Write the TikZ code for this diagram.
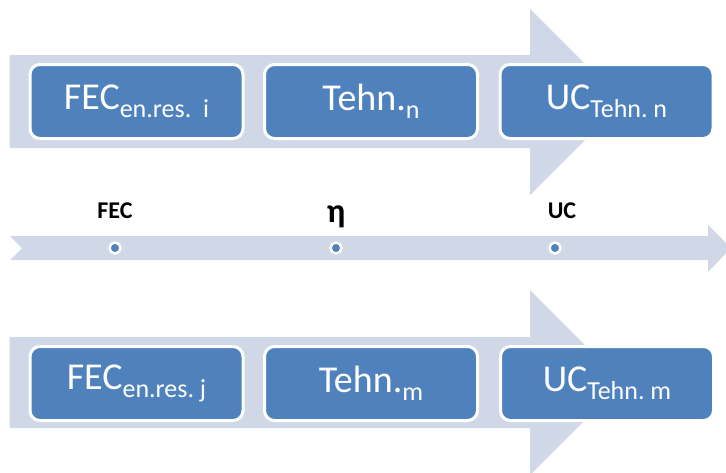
\documentclass[tikz,border=0pt]{standalone}
\usepackage{fontspec}
\setmainfont{Carlito}
\definecolor{band}{HTML}{D0D8E8}
\definecolor{boxblue}{HTML}{4F81BD}
\newcommand\subtxt[1]{\raisebox{-8pt}{\fontsize{26}{26}\selectfont #1}}
\begin{document}
\begin{tikzpicture}[x=1pt,y=-1pt,
  stage/.style={draw=white, line width=3pt, fill=boxblue, rounded corners=10pt,
    minimum width=213pt, minimum height=74pt, text=white, inner sep=0pt,
    font=\fontsize{38}{38}\selectfont},
  lbl/.style={font=\bfseries\fontsize{24}{24}\selectfont, text=black, inner sep=0pt},
  etalbl/.style={font=\bfseries\fontsize{34}{34}\selectfont, text=black, inner sep=0pt},
  dotmark/.style={circle, fill=boxblue, draw=white, line width=2.5pt, minimum size=11pt, inner sep=0pt}]
\useasboundingbox (0,0) rectangle (726,472);
% bands
\fill[band] (9.5,55) -- (530,55) -- (530,9) -- (623,102) -- (530,195) -- (530,148) -- (9.5,148) -- cycle;
\fill[band] (10,236) -- (708,236) -- (708,225) -- (731,248) -- (708,272) -- (708,260) -- (10,260) -- (22,248) -- cycle;
\fill[band] (9.5,337) -- (530,337) -- (530,290) -- (622.5,382.5) -- (530,475) -- (530,428) -- (9.5,428) -- cycle;
% top row
\node[stage] (t1) at (136.5,101.5) {FEC\subtxt{en.res.\ \ i}};
\node[stage] (t2) at (371,101.5) {Tehn.\subtxt{n}};
\node[stage] (t3) at (606.5,101.5) {UC\subtxt{Tehn.\ n}};
% middle
\node[dotmark] (d1) at (115,248) {};
\node[dotmark] (d2) at (336,248) {};
\node[dotmark] (d3) at (555,248) {};
\node[lbl] (l1) at (115,211) {FEC};
\node[etalbl] (l2) at (336,217) {η};
\node[lbl] (l3) at (562,211) {UC};
% bottom row
\node[stage] (b1) at (136.5,383.5) {FEC\subtxt{en.res.\ j}};
\node[stage] (b2) at (371,383.5) {Tehn.\subtxt{m}};
\node[stage] (b3) at (607,383.5) {UC\subtxt{Tehn.\ m}};
\end{tikzpicture}
\end{document}
